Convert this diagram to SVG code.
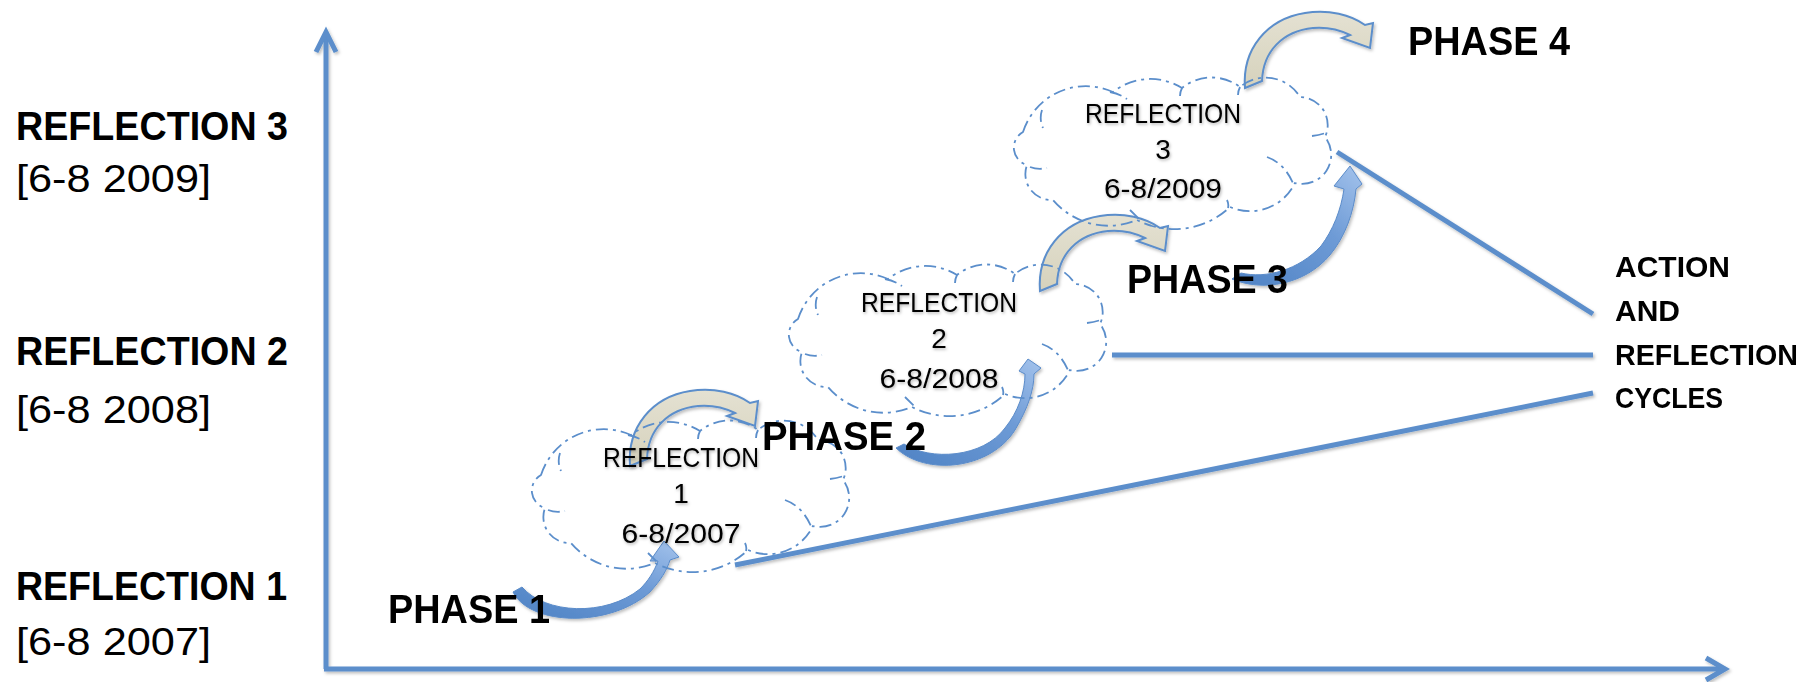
<svg xmlns="http://www.w3.org/2000/svg" width="1816" height="682" viewBox="0 0 1816 682">
<defs>
<style>
.ln{stroke:#5B8ECB;stroke-width:5;fill:none;stroke-linecap:butt}
.hd{stroke:#5B8ECB;stroke-width:5;fill:none;stroke-linejoin:miter}
.cl{fill:none;stroke:#5B8ECB;stroke-width:1.8;stroke-dasharray:12 5 3 5}
.b{font-family:"Liberation Sans",Arial,sans-serif;font-weight:bold;fill:#000}
.r{font-family:"Liberation Sans",Arial,sans-serif;fill:#000}
.ct{font-family:"Liberation Sans",Arial,sans-serif;font-size:28px;fill:#000;text-anchor:middle}
.beige{fill:url(#gBeige);stroke:#5B8ECB;stroke-width:2;stroke-linejoin:miter}
.blue{fill:url(#gBlue);stroke:#5A8BC9;stroke-width:1}
</style>
<linearGradient id="gBeige" x1="0" y1="0" x2="0" y2="1">
<stop offset="0" stop-color="#E4E1D2"/>
<stop offset="1" stop-color="#D6D2BC"/>
</linearGradient>
<linearGradient id="gBlue" x1="0" y1="1" x2="1" y2="0">
<stop offset="0" stop-color="#4E82C4"/>
<stop offset="0.6" stop-color="#6E9BD6"/>
<stop offset="1" stop-color="#A4C3EC"/>
</linearGradient>
<filter id="sh" x="-10%" y="-10%" width="120%" height="130%">
<feDropShadow dx="1.5" dy="2" stdDeviation="1.5" flood-color="#000" flood-opacity="0.25"/>
</filter>
<filter id="tg" x="-10%" y="-30%" width="120%" height="160%">
<feDropShadow dx="1" dy="1.5" stdDeviation="1.5" flood-color="#000" flood-opacity="0.3"/>
</filter>
<g id="cloudShape">
<path class="cl" d="M 11,57 A 66 66 0 0 1 101,17 A 60 60 0 0 1 170,13 A 47 47 0 0 1 228,12 A 40 40 0 0 1 288,22 A 28 28 0 0 1 313,62 A 29 29 0 0 1 283,108 A 50 50 0 0 1 218,132 A 81 81 0 0 1 125,145 A 73 73 0 0 1 41,125 A 26 26 0 0 1 15,90 A 18 18 0 0 1 11,57 Z"/>
<path class="cl" d="M 30,35 Q 27,44 31,53 M 18,92 Q 26,95 35,93 M 98,17 Q 108,19 115,24 M 170,13 Q 168,17 168,21 M 228,12 Q 226,16 226,20 M 300,61 Q 309,60 316,57 M 255,82 Q 272,88 281,108 M 215,125 Q 217,129 216,133 M 118,135 Q 123,140 128,145"/>
</g>
<path id="beigeArrow" class="beige" d="M 0,79 C -3,40 22,10 60,4 C 84,0 106,6 120,16 L 128,14 L 125,39 L 97,29 L 105,26 C 93,20 80,18 68,19 C 38,22 18,42 17,72 Z"/>
</defs>
<rect width="1816" height="682" fill="#FFFFFF"/>

<g id="axes" filter="url(#sh)">
<line class="ln" x1="326" y1="669" x2="326" y2="34"/>
<polyline class="hd" points="316,52 326,32 336,52"/>
<line class="ln" x1="324" y1="669" x2="1722" y2="669"/>
<polyline class="hd" points="1706,658 1725,669 1706,680"/>
</g>

<g id="left-labels">
<text class="b" x="16" y="140" font-size="40" textLength="272" lengthAdjust="spacingAndGlyphs">REFLECTION 3</text>
<text class="r" x="16" y="192" font-size="38" textLength="195" lengthAdjust="spacingAndGlyphs">[6-8 2009]</text>
<text class="b" x="16" y="365" font-size="40" textLength="272" lengthAdjust="spacingAndGlyphs">REFLECTION 2</text>
<text class="r" x="16" y="423" font-size="38" textLength="195" lengthAdjust="spacingAndGlyphs">[6-8 2008]</text>
<text class="b" x="16" y="600" font-size="40" textLength="271" lengthAdjust="spacingAndGlyphs">REFLECTION 1</text>
<text class="r" x="16" y="655" font-size="38" textLength="195" lengthAdjust="spacingAndGlyphs">[6-8 2007]</text>
</g>

<g id="connectors">
<g filter="url(#sh)">
<line class="ln" x1="1337" y1="152" x2="1593" y2="314"/>
<line class="ln" x1="1112" y1="355" x2="1593" y2="355"/>
<line class="ln" x1="735" y1="565" x2="1593" y2="393"/>
</g>
<g id="beige-arrows" filter="url(#sh)">
<use href="#beigeArrow" transform="translate(630,387)"/>
<use href="#beigeArrow" transform="translate(1040,212)"/>
<use href="#beigeArrow" transform="translate(1245,9)"/>
</g>
<g id="blue-arrows" filter="url(#sh)">
<path class="blue" d="M 513,592 C 530,626 610,628 650,592 C 661,580 667,570 670,560 L 679,557 L 664,541 L 650,561 L 658,561 C 654,572 648,581 640,589 C 605,617 545,614 522,587 Z"/>
<path class="blue" d="M 896,448 C 925,476 990,470 1015,430 C 1028,408 1034,390 1034,374 L 1041,368 L 1028,359 L 1019,371 L 1025,374 C 1025,392 1018,412 1005,428 C 983,458 930,461 904,444 Z"/>
<path class="blue" d="M 1232,279 C 1262,292 1305,285 1330,255 C 1345,237 1354,212 1356,189 L 1362,184 L 1350,166 L 1334,186 L 1344,189 C 1341,210 1333,230 1321,246 C 1299,270 1266,279 1241,273 Z"/>
</g>
</g>

<g id="cloud1">
<use href="#cloudShape" transform="translate(530,418)"/>
<g filter="url(#tg)">
<text class="ct" x="681" y="467" textLength="156" lengthAdjust="spacingAndGlyphs">REFLECTION</text>
<text class="ct" x="681" y="503">1</text>
<text class="ct" x="681" y="543" textLength="119" lengthAdjust="spacingAndGlyphs">6-8/2007</text>
</g>
</g>
<g id="cloud2">
<use href="#cloudShape" transform="translate(787,262)"/>
<g filter="url(#tg)">
<text class="ct" x="939" y="312" textLength="156" lengthAdjust="spacingAndGlyphs">REFLECTION</text>
<text class="ct" x="939" y="348">2</text>
<text class="ct" x="939" y="388" textLength="119" lengthAdjust="spacingAndGlyphs">6-8/2008</text>
</g>
</g>
<g id="cloud3">
<use href="#cloudShape" transform="translate(1012,75)"/>
<g filter="url(#tg)">
<text class="ct" x="1163" y="123" textLength="156" lengthAdjust="spacingAndGlyphs">REFLECTION</text>
<text class="ct" x="1163" y="159">3</text>
<text class="ct" x="1163" y="198" textLength="118" lengthAdjust="spacingAndGlyphs">6-8/2009</text>
</g>
</g>

<g id="phase1">
<text class="b" x="388" y="623" font-size="40" textLength="162" lengthAdjust="spacingAndGlyphs">PHASE 1</text>
</g>
<g id="phase2">
<text class="b" x="762" y="450" font-size="40" textLength="164" lengthAdjust="spacingAndGlyphs">PHASE 2</text>
</g>
<g id="phase3">
<text class="b" x="1127" y="293" font-size="40" textLength="161" lengthAdjust="spacingAndGlyphs">PHASE 3</text>
</g>
<g id="phase4">
<text class="b" x="1408" y="55" font-size="40" textLength="162" lengthAdjust="spacingAndGlyphs">PHASE 4</text>
</g>

<g id="cycles-label">
<text class="b" x="1615" y="277" font-size="30">ACTION</text>
<text class="b" x="1615" y="321" font-size="30">AND</text>
<text class="b" x="1615" y="365" font-size="30" textLength="183" lengthAdjust="spacingAndGlyphs">REFLECTION</text>
<text class="b" x="1615" y="408" font-size="30" textLength="108" lengthAdjust="spacingAndGlyphs">CYCLES</text>
</g>
</svg>
